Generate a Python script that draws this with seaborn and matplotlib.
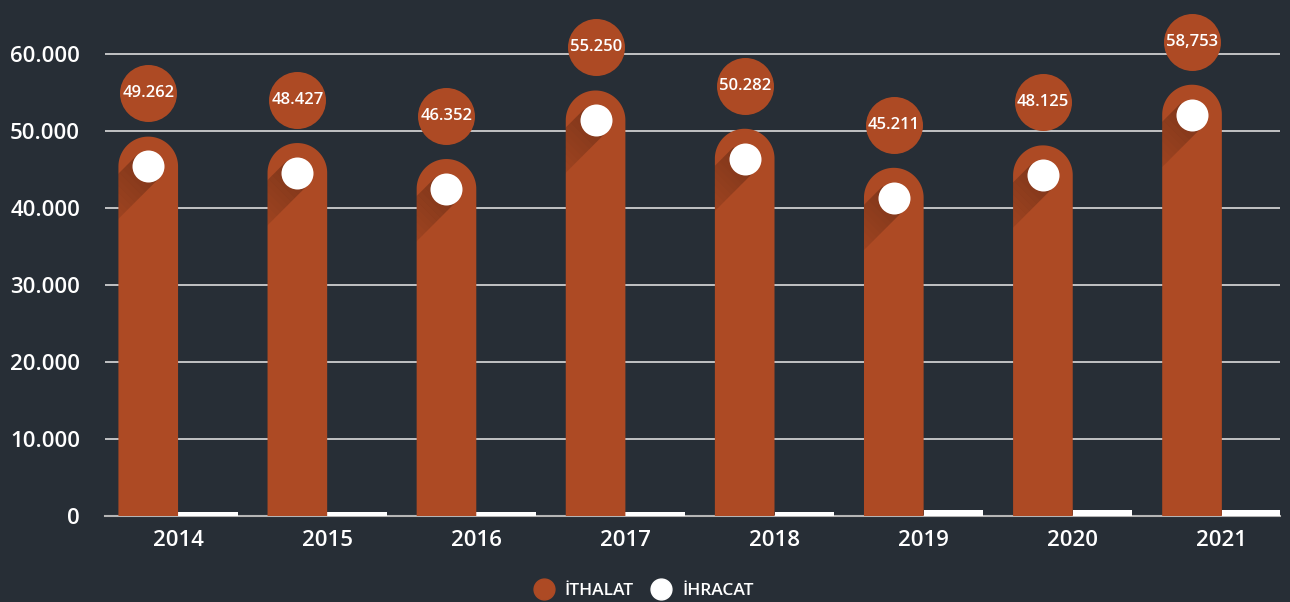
import numpy as np
import pandas as pd
import matplotlib
matplotlib.use("Agg")
import matplotlib.pyplot as plt
from matplotlib.lines import Line2D
from matplotlib.patches import Polygon
import seaborn as sns

years = ["2014", "2015", "2016", "2017", "2018", "2019", "2020", "2021"]
ithalat = [49262, 48427, 46352, 55250, 50282, 45211, 48125, 56000]
ihracat = [560, 560, 560, 560, 560, 780, 780, 830]
ithalat_labels = ["49.262", "48.427", "46.352", "55.250", "50.282", "45.211", "48.125", "58,753"]
yticks = [0, 10000, 20000, 30000, 40000, 50000, 60000]

bg = "#272e36"
orange = "#ad4a24"

sns.set_style("dark")
plt.rcParams["font.family"] = ["Open Sans", "DejaVu Sans"]

df = pd.DataFrame({
    "yil": years * 2,
    "seri": ["İTHALAT"] * len(years) + ["İHRACAT"] * len(years),
    "deger": ithalat + ihracat,
})

W, H = 1290, 602
fig = plt.figure(figsize=(W / 100, H / 100), dpi=100, facecolor=bg)
ax = fig.add_axes([105 / W, (H - 516) / H, (1280 - 105) / W, 516 / H])
ax.set_facecolor(bg)

sns.barplot(data=df, x="yil", y="deger", hue="seri",
            palette={"İTHALAT": orange, "İHRACAT": "white"},
            width=0.8, saturation=1, legend=False, ax=ax, zorder=2)

ax.set_xlim(-0.49, 7.39)
ax.set_ylim(0, 67000)

# pixel scale
px_x = (1280 - 105) / (7.39 + 0.49)
px_y = 516 / 67000

orange_bars = ax.containers[0]
for p in ax.containers[1]:
    p.set_linewidth(0)

to_data = ax.transData.inverted()
theta = np.linspace(np.pi, 0, 60)

for p, v, lab in zip(orange_bars, ithalat, ithalat_labels):
    x0 = p.get_x()
    bw = p.get_width()
    cx = x0 + bw / 2
    r_px = bw * px_x / 2
    r_y = r_px / px_y
    cap_y = v - r_y
    p.set_visible(False)
    # bar with rounded top
    outline = [(x0, 0), (x0, cap_y)]
    outline += [(cx + bw / 2 * np.cos(t), cap_y + r_y * np.sin(t)) for t in theta]
    outline += [(x0 + bw, 0)]
    bar = Polygon(outline, closed=True, facecolor=orange, edgecolor="none", zorder=2)
    ax.add_patch(bar)
    # long shadow from white dot
    c = ax.transData.transform((cx, cap_y))
    d = np.array([-1.0, -1.0]) / np.sqrt(2)
    nrm = np.array([-1.0, 1.0]) / np.sqrt(2)
    rc = 16
    L = 100
    n = 20
    for i in range(n):
        a0, a1 = L * i / n, L * (i + 1) / n
        pts = [c + rc * nrm + a0 * d, c - rc * nrm + a0 * d,
               c - rc * nrm + a1 * d, c + rc * nrm + a1 * d]
        pts = to_data.transform(pts)
        sh = Polygon(pts, closed=True, facecolor="black", edgecolor="none",
                     alpha=0.25 * (1 - i / n) ** 1.3, zorder=3)
        ax.add_patch(sh)
        sh.set_clip_path(bar)
    # white dot
    ax.scatter([cx], [cap_y], s=(2 * rc * 0.72) ** 2, color="white", linewidths=0, zorder=4)
    # label bubble
    by = v + 5600
    ax.scatter([cx], [by], s=(57 * 0.72) ** 2, color=orange, linewidths=0, zorder=5, clip_on=False)
    ax.text(cx, by, lab, color="white", fontsize=12, fontweight="semibold",
            ha="center", va="center", zorder=6)

ax.set_yticks(yticks)
ax.set_yticklabels([f"{t:,}".replace(",", ".") for t in yticks])
ax.yaxis.grid(True, color="#dcdcdc", linewidth=1.2, zorder=0)
ax.xaxis.grid(False)
ax.set_axisbelow(True)
ax.tick_params(axis="y", length=0, pad=18, labelsize=16, labelcolor="white")
ax.tick_params(axis="x", length=0, pad=10, labelsize=16, labelcolor="white")
for lbl in ax.get_xticklabels() + ax.get_yticklabels():
    lbl.set_fontweight("semibold")
ax.set_xlabel("")
ax.set_ylabel("")
for s in ["top", "right", "left"]:
    ax.spines[s].set_visible(False)
ax.spines["bottom"].set_color("#b5b5b5")
ax.spines["bottom"].set_linewidth(1.5)
ax.spines["bottom"].set_zorder(1)

handles = [
    Line2D([], [], marker="o", ls="", color=orange, markersize=15, label="İTHALAT"),
    Line2D([], [], marker="o", ls="", color="white", markersize=15, label="İHRACAT"),
]
leg = fig.legend(handles=handles, loc="center", bbox_to_anchor=(640 / W, 1 - 591 / H),
                 ncol=2, frameon=False, fontsize=12.5, handletextpad=0.2, columnspacing=0.6,
                 labelcolor="white")
for t in leg.get_texts():
    t.set_fontweight("semibold")

fig.savefig("out.png", dpi=100, facecolor=bg)
